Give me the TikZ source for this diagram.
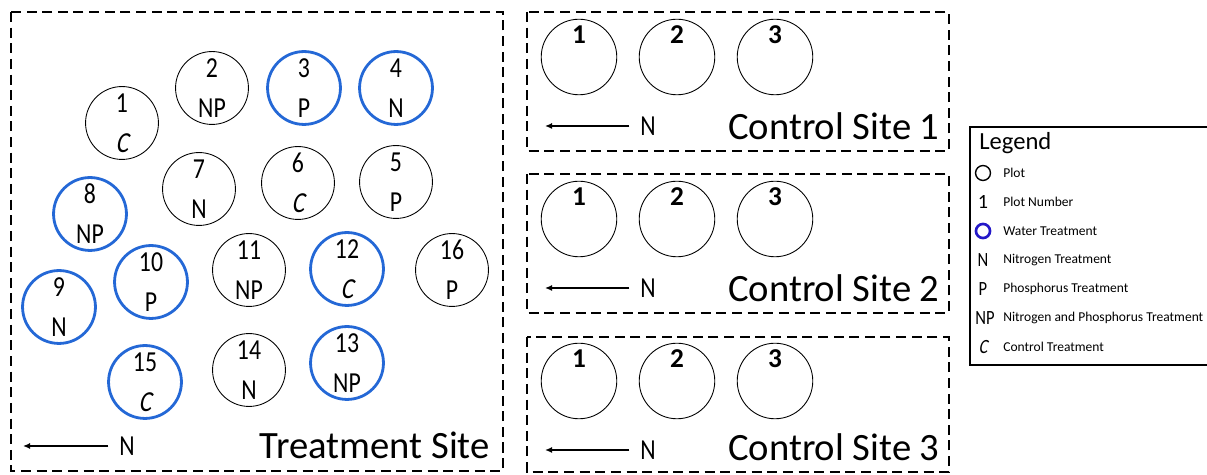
\documentclass[tikz,border=0pt]{standalone}
\usepackage{fontspec}
\setmainfont{Carlito}
\newfontfamily\narrowfont[FakeStretch=0.82]{Carlito}
\newfontfamily\narrowit[FakeStretch=0.82,FakeSlant=0.2]{Carlito}
\usetikzlibrary{arrows.meta}
\definecolor{waterblue}{HTML}{2468D6}
\definecolor{legblue}{HTML}{2418C8}
\begin{document}
\begin{tikzpicture}[x=0.02cm,y=-0.02cm,
 sitebox/.style={draw=black, line width=1.25pt, dash pattern=on 5.7pt off 3.2pt},
 plotc/.style={circle, draw=black, line width=0.5pt, minimum size=41.5pt, inner sep=0pt},
 wplot/.style={plotc, draw=waterblue, line width=1.6pt},
 cplot/.style={circle, draw=black, line width=0.5pt, minimum size=43pt, inner sep=0pt},
 plbl/.style={font=\narrowfont\fontsize{16.5}{18}\selectfont, inner sep=0pt},
 cnum/.style={font=\bfseries\fontsize{15.5}{17}\selectfont, inner sep=0pt},
 sitetitle/.style={font=\fontsize{22}{24}\selectfont, inner sep=0pt, anchor=base east},
 northlbl/.style={font=\narrowfont\fontsize{16.5}{18}\selectfont, inner ysep=0pt, inner xsep=6pt},
 arr/.style={-{Latex[length=4pt,width=3.5pt]}, line width=0.8pt},
 legtitle/.style={font=\fontsize{14}{16}\selectfont, anchor=west, inner sep=0pt},
 legtext/.style={font=\fontsize{7.7}{9}\selectfont, anchor=west, inner sep=0pt},
 legsym/.style={font=\narrowfont\fontsize{11.5}{13}\selectfont, inner sep=0pt},
 legplot/.style={circle, draw=black, line width=0.8pt, minimum size=8.5pt, inner sep=0pt},
 legwater/.style={circle, draw=legblue, line width=1.5pt, minimum size=8pt, inner sep=0pt}]
\useasboundingbox (0,0) rectangle (1207,475);

% site boxes
\draw[sitebox] (11,12) rectangle (503,471);
\draw[sitebox] (527,12) rectangle (949,151);
\draw[sitebox] (527,174) rectangle (949,313);
\draw[sitebox] (527,337) rectangle (949,472);

% treatment plots
\foreach \n/\x/\y/\s/\t in {
 1/122/123/plotc/{\narrowit C},
 2/212/88/plotc/NP,
 3/304/88/wplot/P,
 4/396/88/wplot/N,
 5/396/182/plotc/P,
 6/298/183/plotc/{\narrowit C},
 7/199/189/plotc/N,
 8/90/214/wplot/NP,
 9/59/307/wplot/N,
 10/151/282/wplot/P,
 11/249/270/plotc/NP,
 12/347/269/wplot/{\narrowit C},
 13/347/363/wplot/NP,
 14/249/370/plotc/N,
 15/145/382/wplot/{\narrowit C},
 16/452/270/plotc/P}{
 \node[\s] (p\n) at (\x,\y) {};
 \node[plbl] (p\n num) at (\x,{\y-20}) {\n};
 \node[plbl] (p\n trt) at (\x,{\y+20}) {\t};
}

% control plots
\foreach \site/\y in {1/57, 2/219, 3/381}{
 \foreach \k/\x in {1/579, 2/677, 3/775}{
  \node[cplot] (c\site p\k) at (\x,\y) {};
  \node[cnum] (c\site p\k num) at (\x,{\y-22}) {\k};
 }
}

% north arrows
\node[northlbl] (tN) at (127,446) {N};
\coordinate (tA) at (23,446);
\draw[arr] (tN) -- (tA);
\foreach \site/\y in {1/126, 2/288, 3/450}{
 \node[northlbl] (c\site N) at (648,\y) {N};
 \coordinate (c\site A) at (545,\y);
 \draw[arr] (c\site N) -- (c\site A);
}

% titles
\node[sitetitle] (tT) at (490,459) {Treatment Site};
\node[sitetitle] (c1T) at (940,140) {Control Site 1};
\node[sitetitle] (c2T) at (940,302) {Control Site 2};
\node[sitetitle] (c3T) at (940,461) {Control Site 3};

% legend
\draw[line width=1.2pt] (970,127) rectangle (1215,365);
\node[legtitle] (lgT) at (979,143) {Legend};
\node[legplot] (ls1) at (983,173) {};
\node[legtext] (lt1) at (1003,173) {Plot};
\node[legsym, font=\fontsize{11.5}{13}\selectfont] (ls2) at (983,202) {1};
\node[legtext] (lt2) at (1003,202) {Plot Number};
\node[legwater] (ls3) at (983,231) {};
\node[legtext] (lt3) at (1003,231) {Water Treatment};
\node[legsym] (ls4) at (983,260) {N};
\node[legtext] (lt4) at (1003,260) {Nitrogen Treatment};
\node[legsym] (ls5) at (983,289) {P};
\node[legtext] (lt5) at (1003,289) {Phosphorus Treatment};
\node[legsym] (ls6) at (985,318) {NP};
\node[legtext] (lt6) at (1003,318) {Nitrogen and Phosphorus Treatment};
\node[legsym, font=\narrowit\fontsize{11.5}{13}\selectfont] (ls7) at (983,347) {C};
\node[legtext] (lt7) at (1003,347) {Control Treatment};
\end{tikzpicture}
\end{document}
